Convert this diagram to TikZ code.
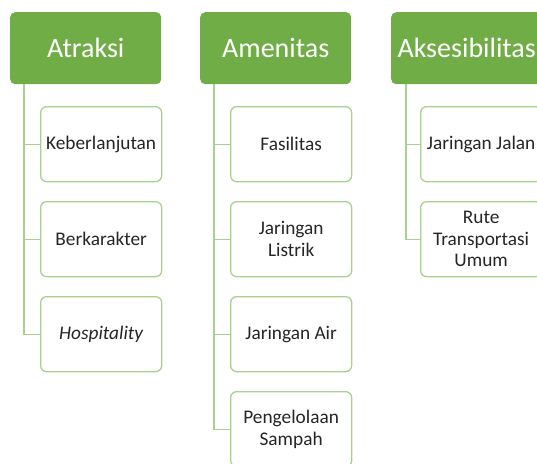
\documentclass[tikz,border=0pt]{standalone}
\usepackage{fontspec}
\setmainfont{Carlito}
\usepackage{tikz}
\definecolor{hdrgreen}{RGB}{112,173,71}
\definecolor{boxgreen}{RGB}{169,209,142}
\definecolor{txtgray}{RGB}{38,38,38}

\begin{document}
\begin{tikzpicture}[x=1pt, y=1pt,
    hdr/.style={fill=hdrgreen, draw=none, rounded corners=5pt, anchor=north west,
        minimum width=151pt, minimum height=72pt, text=white, font=\fontsize{28}{32}\selectfont},
    item/.style={draw=boxgreen, line width=1.3pt, fill=white, rounded corners=6pt, anchor=north west,
        minimum width=121pt, minimum height=75pt, align=center, text=txtgray,
        font=\fontsize{19.3}{21.5}\selectfont},
    link/.style={draw=boxgreen, line width=1.3pt}]
    \useasboundingbox (0, 0) rectangle (537, -463);

    % Headers
    \node[hdr] (atraksi) at (10, -12) {Atraksi};
    \node[hdr] (amenitas) at (200, -12) {Amenitas};
    \node[hdr] (akses) at (391, -12) {Aksesibilitas};

    % Atraksi
    \node[item] (keberlanjutan) at (40, -106) {Keberlanjutan};
    \node[item] (berkarakter) at (40, -201) {Berkarakter};
    \node[item] (hospitality) at (40, -296) {\itshape Hospitality};

    % Amenitas
    \node[item] (fasilitas) at (230, -106) {Fasilitas};
    \node[item] (listrik) at (230, -201) {Jaringan\\Listrik};
    \node[item] (air) at (230, -296) {Jaringan Air};
    \node[item] (sampah) at (230, -391) {Pengelolaan\\Sampah};

    % Aksesibilitas
    \node[item] (jalan) at (420, -106) {Jaringan Jalan};
    \node[item] (rute) at (420, -201) {Rute\\Transportasi\\Umum};

    % Connectors
    \foreach \c in {keberlanjutan, berkarakter, hospitality} {
        \draw[link] ([xshift=14pt]atraksi.south west) |- (\c.west);
    }
    \foreach \c in {fasilitas, listrik, air, sampah} {
        \draw[link] ([xshift=14pt]amenitas.south west) |- (\c.west);
    }
    \foreach \c in {jalan, rute} {
        \draw[link] ([xshift=15pt]akses.south west) |- (\c.west);
    }
\end{tikzpicture}
\end{document}
